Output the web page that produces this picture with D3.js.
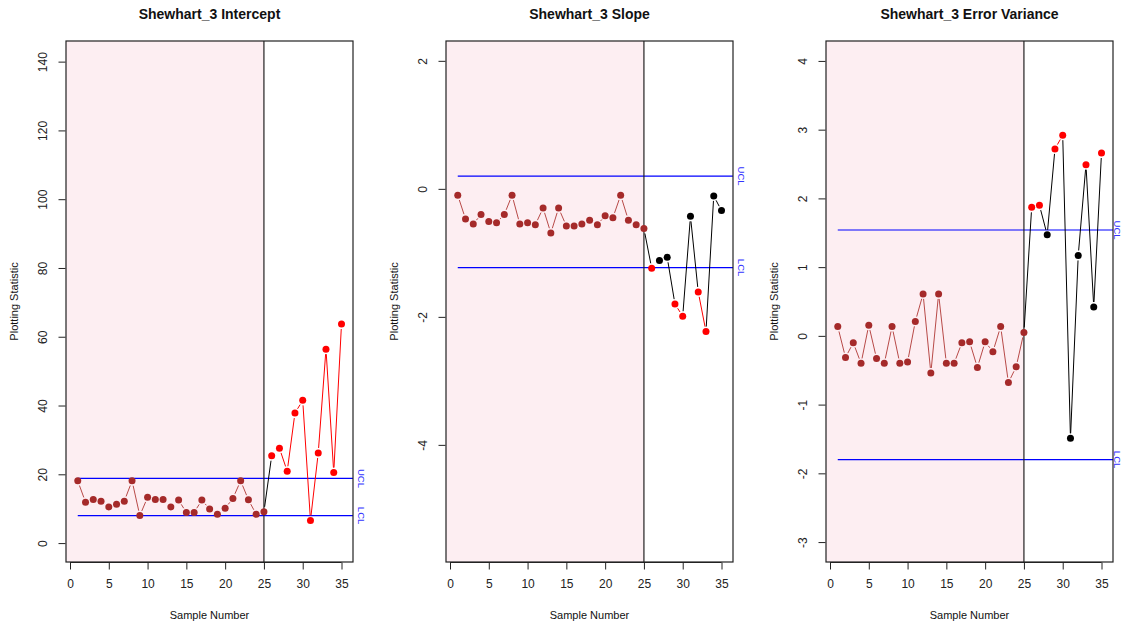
<!DOCTYPE html>
<html>
<head>
<meta charset="utf-8">
<script src="https://cdn.jsdelivr.net/npm/d3@7"></script>
<style>
  html, body { margin: 0; padding: 0; background: #fff; }
  svg { display: block; font-family: "Liberation Sans", Arial, sans-serif; }
</style>
</head>
<body>
<svg id="chart" width="1123" height="625"></svg>
<script>
// ---------------- data ----------------
const sampleNumbers = [1,2,3,4,5,6,7,8,9,10,11,12,13,14,15,16,17,18,19,20,21,22,23,24,25,26,27,28,29,30,31,32,33,34,35];
const phaseOneCount = 25;

const titles = ["Shewhart_3 Intercept", "Shewhart_3 Slope", "Shewhart_3 Error Variance"];

const interceptValues = [18.1, 11.9, 12.7, 12.2, 10.5, 11.3, 12.2, 18.1, 8.0, 13.3,
  12.7, 12.7, 10.5, 12.5, 8.9, 8.9, 12.5, 9.9, 8.4, 10.1,
  13.0, 18.1, 12.6, 8.4, 9.1, 25.4, 27.6, 20.9, 37.8, 41.5,
  6.6, 26.2, 56.4, 20.5, 63.7];

const slopeValues = [-0.10, -0.47, -0.55, -0.40, -0.51, -0.53, -0.40, -0.10, -0.55, -0.53,
  -0.56, -0.30, -0.69, -0.30, -0.58, -0.58, -0.55, -0.49, -0.56, -0.42,
  -0.45, -0.10, -0.49, -0.56, -0.62, -1.24, -1.12, -1.07, -1.80, -1.99,
  -0.43, -1.61, -2.23, -0.11, -0.34];

const errorVarianceValues = [0.135, -0.315, -0.10, -0.40, 0.155, -0.33, -0.40, 0.135, -0.40, -0.38,
  0.21, 0.61, -0.54, 0.61, -0.40, -0.40, -0.10, -0.087, -0.46, -0.087,
  -0.23, 0.135, -0.68, -0.45, 0.05, 1.87, 1.90, 1.47, 2.72, 2.92,
  -1.49, 1.17, 2.49, 0.42, 2.66];

const uclValues = [18.8, 0.20, 1.54];
const lclValues = [8.0, -1.23, -1.80];

const yTicks = [
  [0, 20, 40, 60, 80, 100, 120, 140],
  [-4, -2, 0, 2],
  [-3, -2, -1, 0, 1, 2, 3, 4]
];
const xTicks = [0, 5, 10, 15, 20, 25, 30, 35];

// ---------------- layout ----------------
const W = 1123;
const panelOffset = 380;
const boxLeft = 66, boxRight = 353, boxTop = 41, boxBottom = 562;
const yDomains = [[-5.5, 146], [-5.83, 2.31], [-3.29, 4.29]];
const seriesList = [interceptValues, slopeValues, errorVarianceValues];

const svg = d3.select("#chart");

const brown = "#A52A2A";
const phaseOneLine = "#B84A48";
const pink = "#FDEEF2";

seriesList.forEach((vals, p) => {
  const off = p * panelOffset;
  const g = svg.append("g").attr("transform", `translate(${off},0)`);

  const x = d3.scaleLinear().domain([0, 35]).range([70, 341.5]);
  const y = d3.scaleLinear().domain(yDomains[p]).range([boxBottom, boxTop]);

  const data = sampleNumbers.map((s, i) => {
    const v = vals[i];
    let status;
    if (s <= phaseOneCount) status = "I";
    else status = (v > uclValues[p] || v < lclValues[p]) ? "out" : "in";
    return { s, v, status };
  });
  const colorOf = d => d.status === "I" ? brown : (d.status === "out" ? "#FF0000" : "#000000");

  // phase I shading
  g.append("rect")
    .attr("x", boxLeft).attr("y", boxTop)
    .attr("width", x(phaseOneCount) - boxLeft)
    .attr("height", boxBottom - boxTop)
    .attr("fill", pink);

  // control limits
  [uclValues[p], lclValues[p]].forEach(v => {
    g.append("line")
      .attr("x1", x(1)).attr("x2", boxRight)
      .attr("y1", y(v)).attr("y2", y(v))
      .attr("stroke", "#0000FF").attr("stroke-width", 1.2);
  });
  const labelX = Math.min(boxRight + 8, W - 6 - off);
  [["UCL", uclValues[p]], ["LCL", lclValues[p]]].forEach(([lab, v]) => {
    g.append("text")
      .attr("transform", `translate(${labelX},${y(v)}) rotate(90)`)
      .attr("text-anchor", "middle")
      .attr("dy", "0.35em")
      .attr("font-size", 9.5)
      .attr("fill", "#3333FF")
      .text(lab);
  });

  // phase boundary
  g.append("line")
    .attr("x1", x(phaseOneCount)).attr("x2", x(phaseOneCount))
    .attr("y1", boxTop).attr("y2", boxBottom)
    .attr("stroke", "#222").attr("stroke-width", 1.2);

  // line segments with gaps (type = "b")
  const gap = 5;
  for (let i = 0; i < data.length - 1; i++) {
    const a = data[i], b = data[i + 1];
    const x1 = x(a.s), y1 = y(a.v), x2 = x(b.s), y2 = y(b.v);
    const len = Math.hypot(x2 - x1, y2 - y1);
    if (len <= 2 * gap + 1) continue;
    const ux = (x2 - x1) / len, uy = (y2 - y1) / len;
    let col;
    if (b.s <= phaseOneCount) col = phaseOneLine;
    else col = (a.status === "out" && b.status === "out") ? "#FF0000" : "#000000";
    g.append("line")
      .attr("x1", x1 + ux * gap).attr("y1", y1 + uy * gap)
      .attr("x2", x2 - ux * gap).attr("y2", y2 - uy * gap)
      .attr("stroke", col).attr("stroke-width", 1);
  }

  // points
  g.selectAll("circle.pt").data(data).enter().append("circle")
    .attr("class", "pt")
    .attr("cx", d => x(d.s)).attr("cy", d => y(d.v))
    .attr("r", 3.5)
    .attr("fill", colorOf);

  // box
  g.append("rect")
    .attr("x", boxLeft).attr("y", boxTop)
    .attr("width", boxRight - boxLeft).attr("height", boxBottom - boxTop)
    .attr("fill", "none").attr("stroke", "#222").attr("stroke-width", 1.2);

  // y axis
  const yAxis = d3.axisLeft(y).tickValues(yTicks[p]).tickSize(7).tickPadding(0).tickFormat(d3.format("d"));
  const ya = g.append("g").attr("transform", `translate(${boxLeft - 0.5},0)`).call(yAxis);
  ya.select(".domain").remove();
  ya.selectAll(".tick line").attr("stroke", "#222");
  ya.selectAll(".tick text")
    .attr("x", null).attr("dy", null)
    .attr("transform", "translate(-23,0) rotate(-90)")
    .attr("text-anchor", "middle")
    .attr("dominant-baseline", "central")
    .attr("font-size", 12)
    .attr("fill", "#222")
    .text(d => d < 0 ? "-" + Math.abs(d) : d);

  // x axis
  const xAxis = d3.axisBottom(x).tickValues(xTicks).tickSize(7).tickPadding(10);
  const xa = g.append("g").attr("transform", `translate(0,${boxBottom + 0.5})`).call(xAxis);
  xa.select(".domain")
    .attr("d", `M${x(0)},0H${x(35)}`)
    .attr("stroke", "#222");
  xa.selectAll(".tick line").attr("stroke", "#222");
  xa.selectAll(".tick text").attr("font-size", 12).attr("fill", "#222");

  // titles
  g.append("text")
    .attr("x", (boxLeft + boxRight) / 2).attr("y", 19)
    .attr("text-anchor", "middle")
    .attr("font-size", 14).attr("font-weight", "bold")
    .attr("fill", "#111")
    .text(titles[p]);

  g.append("text")
    .attr("x", (boxLeft + boxRight) / 2).attr("y", 619)
    .attr("text-anchor", "middle")
    .attr("font-size", 11).attr("fill", "#111")
    .text("Sample Number");

  g.append("text")
    .attr("transform", `translate(18,${(boxTop + boxBottom) / 2}) rotate(-90)`)
    .attr("text-anchor", "middle")
    .attr("font-size", 11).attr("fill", "#111")
    .text("Plotting Statistic");
});
</script>
</body>
</html>
